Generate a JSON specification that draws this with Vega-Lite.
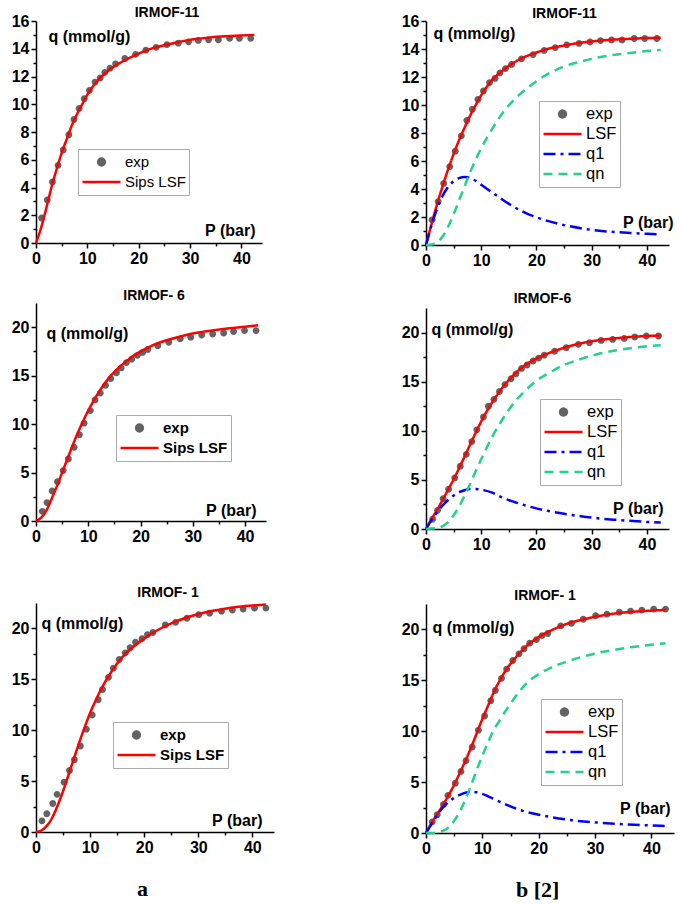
{
  "$schema": "https://vega.github.io/schema/vega-lite/v6.json",
  "background": "white",
  "padding": {"left": 11, "top": 6, "right": 4, "bottom": 5},
  "spacing": 127,
  "resolve": {"scale": {"color": "independent", "strokeDash": "independent", "shape": "independent"}, "legend": {"color": "independent", "shape": "independent", "strokeDash": "independent"}},
  "config": {
    "view": {"stroke": null},
    "font": "Liberation Sans",
    "axis": {"grid": false, "domainColor": "black", "domainWidth": 1.5, "tickColor": "black", "tickWidth": 1.5, "tickSize": 5, "labelFont": "Liberation Sans", "labelFontWeight": "bold", "labelFontSize": 16, "labelColor": "black", "labelPadding": 2, "labelFlush": false, "labelOverlap": false, "titleFont": "Liberation Sans", "titleFontWeight": "bold", "titleColor": "black", "titleFontSize": 16},
    "title": {"font": "Liberation Sans", "fontWeight": "bold", "fontSize": 14, "color": "black", "baseline": "bottom"},
    "legend": {"labelFont": "Liberation Sans", "labelColor": "black", "strokeColor": "#aaaaaa", "fillColor": "white", "padding": 3, "rowPadding": 0, "labelOffset": 3, "symbolStrokeWidth": 2.5, "symbolSize": 1444, "clipHeight": 20, "symbolOpacity": 1}
  },
  "datasets": {
    "m11_exp": [
      {"s":"exp","P":1.1,"q":1.8},{"s":"exp","P":2.2,"q":3.1},{"s":"exp","P":3.2,"q":4.4},{"s":"exp","P":4.3,"q":5.6},{"s":"exp","P":5.3,"q":6.7},{"s":"exp","P":6.4,"q":7.8},{"s":"exp","P":7.4,"q":8.9},{"s":"exp","P":8.4,"q":9.7},{"s":"exp","P":9.4,"q":10.4},{"s":"exp","P":10.4,"q":11.0},{"s":"exp","P":11.5,"q":11.6},{"s":"exp","P":12.5,"q":11.9},{"s":"exp","P":13.4,"q":12.3},{"s":"exp","P":14.4,"q":12.6},{"s":"exp","P":15.5,"q":12.9},{"s":"exp","P":17.3,"q":13.3},{"s":"exp","P":19.4,"q":13.6},{"s":"exp","P":21.4,"q":13.9},{"s":"exp","P":23.4,"q":14.1},{"s":"exp","P":25.5,"q":14.3},{"s":"exp","P":27.7,"q":14.4},{"s":"exp","P":29.7,"q":14.5},{"s":"exp","P":31.6,"q":14.6},{"s":"exp","P":33.6,"q":14.65},{"s":"exp","P":35.5,"q":14.65},{"s":"exp","P":37.7,"q":14.75},{"s":"exp","P":39.6,"q":14.75},{"s":"exp","P":41.8,"q":14.75}
    ],
    "m11_sips": [
      {"s":"Sips LSF","P":0,"q":0},{"s":"Sips LSF","P":1,"q":1.1},{"s":"Sips LSF","P":2,"q":2.5},{"s":"Sips LSF","P":3,"q":4.0},{"s":"Sips LSF","P":4,"q":5.3},{"s":"Sips LSF","P":5,"q":6.5},{"s":"Sips LSF","P":6,"q":7.5},{"s":"Sips LSF","P":7,"q":8.5},{"s":"Sips LSF","P":8,"q":9.3},{"s":"Sips LSF","P":9,"q":10.0},{"s":"Sips LSF","P":10,"q":10.7},{"s":"Sips LSF","P":11,"q":11.25},{"s":"Sips LSF","P":12,"q":11.7},{"s":"Sips LSF","P":14,"q":12.4},{"s":"Sips LSF","P":16,"q":12.9},{"s":"Sips LSF","P":18,"q":13.3},{"s":"Sips LSF","P":20,"q":13.65},{"s":"Sips LSF","P":22,"q":13.95},{"s":"Sips LSF","P":25,"q":14.25},{"s":"Sips LSF","P":28,"q":14.5},{"s":"Sips LSF","P":31,"q":14.7},{"s":"Sips LSF","P":34,"q":14.82},{"s":"Sips LSF","P":37,"q":14.9},{"s":"Sips LSF","P":40,"q":14.96},{"s":"Sips LSF","P":42.5,"q":15.0}
    ],
    "m11_fit": [
      {"s":"LSF","P":0,"q":0},{"s":"LSF","P":1,"q":1.5},{"s":"LSF","P":2,"q":2.9},{"s":"LSF","P":3,"q":4.2},{"s":"LSF","P":4,"q":5.4},{"s":"LSF","P":5,"q":6.5},{"s":"LSF","P":6,"q":7.5},{"s":"LSF","P":7,"q":8.4},{"s":"LSF","P":8,"q":9.25},{"s":"LSF","P":9,"q":10.0},{"s":"LSF","P":10,"q":10.7},{"s":"LSF","P":11,"q":11.3},{"s":"LSF","P":12,"q":11.8},{"s":"LSF","P":14,"q":12.5},{"s":"LSF","P":16,"q":13.05},{"s":"LSF","P":18,"q":13.45},{"s":"LSF","P":20,"q":13.75},{"s":"LSF","P":22,"q":14.0},{"s":"LSF","P":25,"q":14.25},{"s":"LSF","P":28,"q":14.45},{"s":"LSF","P":31,"q":14.58},{"s":"LSF","P":34,"q":14.67},{"s":"LSF","P":37,"q":14.73},{"s":"LSF","P":40,"q":14.78},{"s":"LSF","P":42.5,"q":14.8},
      {"s":"q1","P":0,"q":0},{"s":"q1","P":1,"q":1.4},{"s":"q1","P":2,"q":2.6},{"s":"q1","P":3,"q":3.5},{"s":"q1","P":4,"q":4.15},{"s":"q1","P":5,"q":4.55},{"s":"q1","P":6,"q":4.78},{"s":"q1","P":7,"q":4.85},{"s":"q1","P":8,"q":4.78},{"s":"q1","P":9,"q":4.58},{"s":"q1","P":10,"q":4.3},{"s":"q1","P":12,"q":3.75},{"s":"q1","P":14,"q":3.2},{"s":"q1","P":16,"q":2.7},{"s":"q1","P":18,"q":2.3},{"s":"q1","P":20,"q":1.98},{"s":"q1","P":22,"q":1.72},{"s":"q1","P":25,"q":1.42},{"s":"q1","P":28,"q":1.2},{"s":"q1","P":31,"q":1.03},{"s":"q1","P":34,"q":0.93},{"s":"q1","P":37,"q":0.86},{"s":"q1","P":40,"q":0.8},{"s":"q1","P":42,"q":0.76},
      {"s":"qn","P":0,"q":0},{"s":"qn","P":1,"q":0.03},{"s":"qn","P":2,"q":0.2},{"s":"qn","P":3,"q":0.6},{"s":"qn","P":4,"q":1.3},{"s":"qn","P":5,"q":2.2},{"s":"qn","P":6,"q":3.2},{"s":"qn","P":7,"q":4.2},{"s":"qn","P":8,"q":5.2},{"s":"qn","P":9,"q":6.1},{"s":"qn","P":10,"q":6.9},{"s":"qn","P":12,"q":8.3},{"s":"qn","P":14,"q":9.5},{"s":"qn","P":16,"q":10.4},{"s":"qn","P":18,"q":11.1},{"s":"qn","P":20,"q":11.7},{"s":"qn","P":22,"q":12.2},{"s":"qn","P":25,"q":12.75},{"s":"qn","P":28,"q":13.1},{"s":"qn","P":31,"q":13.38},{"s":"qn","P":34,"q":13.58},{"s":"qn","P":37,"q":13.72},{"s":"qn","P":40,"q":13.85},{"s":"qn","P":42.5,"q":13.92}
    ],
    "m6_exp": [
      {"s":"exp","P":1.2,"q":1.0},{"s":"exp","P":2.1,"q":1.9},{"s":"exp","P":3.1,"q":3.1},{"s":"exp","P":4.1,"q":4.05},{"s":"exp","P":5.2,"q":5.2},{"s":"exp","P":6.2,"q":6.4},{"s":"exp","P":7.3,"q":7.6},{"s":"exp","P":8.3,"q":8.9},{"s":"exp","P":9.2,"q":10.1},{"s":"exp","P":10.4,"q":11.4},{"s":"exp","P":11.3,"q":12.5},{"s":"exp","P":12.3,"q":13.2},{"s":"exp","P":13.3,"q":14.0},{"s":"exp","P":14.3,"q":14.7},{"s":"exp","P":15.4,"q":15.3},{"s":"exp","P":16.3,"q":15.8},{"s":"exp","P":17.3,"q":16.35},{"s":"exp","P":18.3,"q":16.7},{"s":"exp","P":19.4,"q":17.1},{"s":"exp","P":20.4,"q":17.4},{"s":"exp","P":21.4,"q":17.7},{"s":"exp","P":23.3,"q":18.1},{"s":"exp","P":25.4,"q":18.45},{"s":"exp","P":27.6,"q":18.8},{"s":"exp","P":29.6,"q":18.97},{"s":"exp","P":31.7,"q":19.2},{"s":"exp","P":33.8,"q":19.3},{"s":"exp","P":35.9,"q":19.4},{"s":"exp","P":37.8,"q":19.55},{"s":"exp","P":39.9,"q":19.65},{"s":"exp","P":42.1,"q":19.65}
    ],
    "m6_sips": [
      {"s":"Sips LSF","P":0,"q":0},{"s":"Sips LSF","P":1,"q":0.35},{"s":"Sips LSF","P":2,"q":1.1},{"s":"Sips LSF","P":3,"q":2.3},{"s":"Sips LSF","P":4,"q":3.6},{"s":"Sips LSF","P":5,"q":5.0},{"s":"Sips LSF","P":6,"q":6.4},{"s":"Sips LSF","P":7,"q":7.8},{"s":"Sips LSF","P":8,"q":9.1},{"s":"Sips LSF","P":9,"q":10.3},{"s":"Sips LSF","P":10,"q":11.4},{"s":"Sips LSF","P":12,"q":13.3},{"s":"Sips LSF","P":14,"q":14.8},{"s":"Sips LSF","P":16,"q":15.9},{"s":"Sips LSF","P":18,"q":16.8},{"s":"Sips LSF","P":20,"q":17.5},{"s":"Sips LSF","P":22,"q":18.05},{"s":"Sips LSF","P":25,"q":18.65},{"s":"Sips LSF","P":28,"q":19.1},{"s":"Sips LSF","P":31,"q":19.45},{"s":"Sips LSF","P":34,"q":19.7},{"s":"Sips LSF","P":37,"q":19.9},{"s":"Sips LSF","P":40,"q":20.05},{"s":"Sips LSF","P":42.5,"q":20.2}
    ],
    "m6_fit": [
      {"s":"LSF","P":0,"q":0},{"s":"LSF","P":1,"q":1.0},{"s":"LSF","P":2,"q":1.95},{"s":"LSF","P":3,"q":2.95},{"s":"LSF","P":4,"q":4.0},{"s":"LSF","P":5,"q":5.05},{"s":"LSF","P":6,"q":6.2},{"s":"LSF","P":7,"q":7.4},{"s":"LSF","P":8,"q":8.6},{"s":"LSF","P":9,"q":9.8},{"s":"LSF","P":10,"q":10.95},{"s":"LSF","P":12,"q":12.9},{"s":"LSF","P":14,"q":14.5},{"s":"LSF","P":16,"q":15.75},{"s":"LSF","P":18,"q":16.7},{"s":"LSF","P":20,"q":17.35},{"s":"LSF","P":22,"q":17.85},{"s":"LSF","P":25,"q":18.45},{"s":"LSF","P":28,"q":18.9},{"s":"LSF","P":31,"q":19.2},{"s":"LSF","P":34,"q":19.4},{"s":"LSF","P":37,"q":19.55},{"s":"LSF","P":40,"q":19.65},{"s":"LSF","P":42.5,"q":19.7},
      {"s":"q1","P":0,"q":0},{"s":"q1","P":1,"q":0.9},{"s":"q1","P":2,"q":1.7},{"s":"q1","P":3,"q":2.4},{"s":"q1","P":4,"q":2.95},{"s":"q1","P":5,"q":3.4},{"s":"q1","P":6,"q":3.75},{"s":"q1","P":7,"q":3.95},{"s":"q1","P":8,"q":4.07},{"s":"q1","P":9,"q":4.08},{"s":"q1","P":10,"q":4.0},{"s":"q1","P":12,"q":3.7},{"s":"q1","P":14,"q":3.15},{"s":"q1","P":16,"q":2.75},{"s":"q1","P":18,"q":2.4},{"s":"q1","P":20,"q":2.1},{"s":"q1","P":22,"q":1.85},{"s":"q1","P":25,"q":1.55},{"s":"q1","P":28,"q":1.3},{"s":"q1","P":31,"q":1.1},{"s":"q1","P":34,"q":0.95},{"s":"q1","P":37,"q":0.83},{"s":"q1","P":40,"q":0.72},{"s":"q1","P":42.5,"q":0.66},
      {"s":"qn","P":0,"q":0},{"s":"qn","P":2,"q":0.1},{"s":"qn","P":3,"q":0.3},{"s":"qn","P":4,"q":0.7},{"s":"qn","P":5,"q":1.4},{"s":"qn","P":6,"q":2.3},{"s":"qn","P":7,"q":3.4},{"s":"qn","P":8,"q":4.6},{"s":"qn","P":9,"q":5.9},{"s":"qn","P":10,"q":7.1},{"s":"qn","P":12,"q":9.4},{"s":"qn","P":14,"q":11.3},{"s":"qn","P":16,"q":12.9},{"s":"qn","P":18,"q":14.1},{"s":"qn","P":20,"q":15.1},{"s":"qn","P":22,"q":15.8},{"s":"qn","P":25,"q":16.7},{"s":"qn","P":28,"q":17.3},{"s":"qn","P":31,"q":17.8},{"s":"qn","P":34,"q":18.15},{"s":"qn","P":37,"q":18.4},{"s":"qn","P":40,"q":18.6},{"s":"qn","P":42.5,"q":18.7}
    ],
    "m1_exp": [
      {"s":"exp","P":1.1,"q":1.1},{"s":"exp","P":2.0,"q":1.8},{"s":"exp","P":3.1,"q":2.8},{"s":"exp","P":3.9,"q":3.7},{"s":"exp","P":5.2,"q":4.9},{"s":"exp","P":6.2,"q":6.05},{"s":"exp","P":7.1,"q":7.1},{"s":"exp","P":8.2,"q":8.45},{"s":"exp","P":9.3,"q":10.1},{"s":"exp","P":10.4,"q":11.5},{"s":"exp","P":11.5,"q":13.0},{"s":"exp","P":12.3,"q":14.0},{"s":"exp","P":13.4,"q":15.2},{"s":"exp","P":14.3,"q":16.1},{"s":"exp","P":15.4,"q":16.95},{"s":"exp","P":16.5,"q":17.6},{"s":"exp","P":17.4,"q":18.1},{"s":"exp","P":18.4,"q":18.65},{"s":"exp","P":19.6,"q":19.0},{"s":"exp","P":20.6,"q":19.4},{"s":"exp","P":21.6,"q":19.6},{"s":"exp","P":23.9,"q":20.35},{"s":"exp","P":25.8,"q":20.6},{"s":"exp","P":27.9,"q":21.0},{"s":"exp","P":30.1,"q":21.35},{"s":"exp","P":32.1,"q":21.5},{"s":"exp","P":34.3,"q":21.7},{"s":"exp","P":36.3,"q":21.8},{"s":"exp","P":38.3,"q":21.9},{"s":"exp","P":40.4,"q":22.0},{"s":"exp","P":42.5,"q":22.0}
    ],
    "m1_sips": [
      {"s":"Sips LSF","P":0,"q":0},{"s":"Sips LSF","P":1,"q":0.15},{"s":"Sips LSF","P":2,"q":0.6},{"s":"Sips LSF","P":3,"q":1.4},{"s":"Sips LSF","P":4,"q":2.6},{"s":"Sips LSF","P":5,"q":4.0},{"s":"Sips LSF","P":6,"q":5.6},{"s":"Sips LSF","P":7,"q":7.2},{"s":"Sips LSF","P":8,"q":8.8},{"s":"Sips LSF","P":9,"q":10.3},{"s":"Sips LSF","P":10,"q":11.7},{"s":"Sips LSF","P":11,"q":12.9},{"s":"Sips LSF","P":12,"q":14.0},{"s":"Sips LSF","P":14,"q":15.8},{"s":"Sips LSF","P":16,"q":17.2},{"s":"Sips LSF","P":18,"q":18.2},{"s":"Sips LSF","P":20,"q":19.0},{"s":"Sips LSF","P":22,"q":19.7},{"s":"Sips LSF","P":25,"q":20.5},{"s":"Sips LSF","P":28,"q":21.1},{"s":"Sips LSF","P":31,"q":21.55},{"s":"Sips LSF","P":34,"q":21.85},{"s":"Sips LSF","P":37,"q":22.1},{"s":"Sips LSF","P":40,"q":22.25},{"s":"Sips LSF","P":42.5,"q":22.35}
    ],
    "m1_fit": [
      {"s":"LSF","P":0,"q":0},{"s":"LSF","P":1,"q":1.0},{"s":"LSF","P":2,"q":1.85},{"s":"LSF","P":3,"q":2.75},{"s":"LSF","P":4,"q":3.7},{"s":"LSF","P":5,"q":4.75},{"s":"LSF","P":6,"q":5.9},{"s":"LSF","P":7,"q":7.1},{"s":"LSF","P":8,"q":8.4},{"s":"LSF","P":9,"q":9.8},{"s":"LSF","P":10,"q":11.2},{"s":"LSF","P":11,"q":12.5},{"s":"LSF","P":12,"q":13.8},{"s":"LSF","P":13,"q":14.9},{"s":"LSF","P":14,"q":15.85},{"s":"LSF","P":16,"q":17.3},{"s":"LSF","P":18,"q":18.45},{"s":"LSF","P":20,"q":19.25},{"s":"LSF","P":22,"q":19.85},{"s":"LSF","P":25,"q":20.55},{"s":"LSF","P":28,"q":21.0},{"s":"LSF","P":31,"q":21.35},{"s":"LSF","P":34,"q":21.6},{"s":"LSF","P":37,"q":21.75},{"s":"LSF","P":40,"q":21.85},{"s":"LSF","P":42.5,"q":21.92},
      {"s":"q1","P":0,"q":0},{"s":"q1","P":1,"q":0.9},{"s":"q1","P":2,"q":1.75},{"s":"q1","P":3,"q":2.5},{"s":"q1","P":4,"q":3.05},{"s":"q1","P":5,"q":3.45},{"s":"q1","P":6,"q":3.75},{"s":"q1","P":7,"q":3.95},{"s":"q1","P":8,"q":4.05},{"s":"q1","P":9,"q":4.0},{"s":"q1","P":10,"q":3.85},{"s":"q1","P":11,"q":3.6},{"s":"q1","P":12,"q":3.35},{"s":"q1","P":14,"q":2.85},{"s":"q1","P":16,"q":2.4},{"s":"q1","P":18,"q":2.05},{"s":"q1","P":20,"q":1.8},{"s":"q1","P":22,"q":1.58},{"s":"q1","P":25,"q":1.32},{"s":"q1","P":28,"q":1.13},{"s":"q1","P":31,"q":1.0},{"s":"q1","P":34,"q":0.9},{"s":"q1","P":37,"q":0.81},{"s":"q1","P":40,"q":0.74},{"s":"q1","P":42.5,"q":0.69},
      {"s":"qn","P":0,"q":0},{"s":"qn","P":1,"q":0},{"s":"qn","P":2,"q":0.05},{"s":"qn","P":3,"q":0.2},{"s":"qn","P":4,"q":0.55},{"s":"qn","P":5,"q":1.2},{"s":"qn","P":6,"q":2.1},{"s":"qn","P":7,"q":3.3},{"s":"qn","P":8,"q":4.7},{"s":"qn","P":9,"q":6.2},{"s":"qn","P":10,"q":7.6},{"s":"qn","P":11,"q":8.9},{"s":"qn","P":12,"q":10.1},{"s":"qn","P":13,"q":11.0},{"s":"qn","P":14,"q":11.9},{"s":"qn","P":15,"q":12.7},{"s":"qn","P":16,"q":13.5},{"s":"qn","P":17,"q":14.2},{"s":"qn","P":18,"q":14.8},{"s":"qn","P":20,"q":15.6},{"s":"qn","P":22,"q":16.2},{"s":"qn","P":25,"q":16.85},{"s":"qn","P":28,"q":17.35},{"s":"qn","P":31,"q":17.75},{"s":"qn","P":34,"q":18.05},{"s":"qn","P":37,"q":18.3},{"s":"qn","P":40,"q":18.5},{"s":"qn","P":42.5,"q":18.65}
    ]
  },
  "hconcat": [
    {
      "title": {"text": "a", "orient": "bottom", "anchor": "middle", "font": "Liberation Serif", "fontSize": 22, "fontWeight": "bold", "baseline": "top", "offset": 24},
      "spacing": 41,
      "resolve": {"scale": {"color": "independent", "strokeDash": "independent", "shape": "independent"}, "legend": {"color": "independent", "shape": "independent", "strokeDash": "independent"}},
      "vconcat": [
        {
          "spacing": 23,
          "resolve": {"scale": {"color": "independent", "strokeDash": "independent", "shape": "independent"}, "legend": {"color": "independent", "shape": "independent", "strokeDash": "independent"}},
          "vconcat": [
            {
              "width": 226, "height": 222,
              "title": {"text": "IRMOF-11", "dx": 18, "offset": -7},
              "resolve": {"axis": {"x": "independent", "y": "independent"}},
              "layer": [
                {
                  "data": {"name": "m11_exp"},
                  "mark": {"type": "point", "filled": true, "size": 1444, "opacity": 1},
                  "encoding": {
                    "x": {"field": "P", "type": "quantitative", "scale": {"domain": [0, 44], "nice": false}, "axis": {"orient": "bottom", "values": [0,10,20,30,40], "title": "P (bar)", "titleX": 219, "titleY": -13, "titleAlign": "right", "titleBaseline": "middle"}},
                    "y": {"field": "q", "type": "quantitative", "scale": {"domain": [0, 16], "nice": false}, "axis": {"orient": "left", "values": [0,2,4,6,8,10,12,14,16], "title": "q (mmol/g)", "titleAngle": 0, "titleX": 12, "titleY": 15, "titleAlign": "left", "titleBaseline": "middle"}},
                    "color": {"field": "s", "type": "nominal", "scale": {"domain": ["exp", "Sips LSF"], "range": ["#636363", "#ff0000"]},
                      "legend": {"title": null, "orient": "none", "legendX": 42, "legendY": 128, "labelFontSize": 15, "labelFontWeight": "normal"}},
                    "shape": {"field": "s", "type": "nominal", "scale": {"domain": ["exp", "Sips LSF"], "range": ["M-0.18,0A0.18,0.18,0,1,0,0.18,0A0.18,0.18,0,1,0,-0.18,0Z", "stroke"]}, "legend": {"title": null}}
                  }
                },
                {
                  "data": {"name": "m11_sips"},
                  "mark": {"type": "line", "strokeWidth": 2.5, "interpolate": "monotone"},
                  "encoding": {
                    "x": {"field": "P", "type": "quantitative", "axis": {"orient": "bottom", "values": [5,15,25,35], "labels": false, "domain": false, "title": null, "tickSize": 3}},
                    "y": {"field": "q", "type": "quantitative", "axis": {"orient": "left", "values": [1,3,5,7,9,11,13,15], "labels": false, "domain": false, "title": null, "tickSize": 3}},
                    "color": {"field": "s", "type": "nominal"}
                  }
                }
              ]
            },
            {
              "width": 230, "height": 218,
              "title": {"text": "IRMOF- 6", "dx": 3, "offset": 0},
              "resolve": {"axis": {"x": "independent", "y": "independent"}},
              "layer": [
                {
                  "data": {"name": "m6_exp"},
                  "mark": {"type": "point", "filled": true, "size": 1444, "opacity": 1},
                  "encoding": {
                    "x": {"field": "P", "type": "quantitative", "scale": {"domain": [0, 44], "nice": false}, "axis": {"orient": "bottom", "values": [0,10,20,30,40], "title": "P (bar)", "titleX": 220, "titleY": -11, "titleAlign": "right", "titleBaseline": "middle"}},
                    "y": {"field": "q", "type": "quantitative", "scale": {"domain": [0, 22.5], "nice": false}, "axis": {"orient": "left", "values": [0,5,10,15,20], "title": "q (mmol/g)", "titleAngle": 0, "titleX": 10, "titleY": 30, "titleAlign": "left", "titleBaseline": "middle"}},
                    "color": {"field": "s", "type": "nominal", "scale": {"domain": ["exp", "Sips LSF"], "range": ["#636363", "#ff0000"]},
                      "legend": {"title": null, "orient": "none", "legendX": 80, "legendY": 112, "labelFontSize": 15, "labelFontWeight": "bold"}},
                    "shape": {"field": "s", "type": "nominal", "scale": {"domain": ["exp", "Sips LSF"], "range": ["M-0.18,0A0.18,0.18,0,1,0,0.18,0A0.18,0.18,0,1,0,-0.18,0Z", "stroke"]}, "legend": {"title": null}}
                  }
                },
                {
                  "data": {"name": "m6_sips"},
                  "mark": {"type": "line", "strokeWidth": 2.5, "interpolate": "monotone"},
                  "encoding": {
                    "x": {"field": "P", "type": "quantitative", "axis": {"orient": "bottom", "values": [5,15,25,35], "labels": false, "domain": false, "title": null, "tickSize": 3}},
                    "y": {"field": "q", "type": "quantitative", "axis": {"orient": "left", "values": [2.5,7.5,12.5,17.5], "labels": false, "domain": false, "title": null, "tickSize": 3}},
                    "color": {"field": "s", "type": "nominal"}
                  }
                }
              ]
            }
          ]
        },
        {
          "width": 238, "height": 229,
          "title": {"text": "IRMOF- 1", "dx": 13, "offset": 0},
          "resolve": {"axis": {"x": "independent", "y": "independent"}},
          "layer": [
            {
              "data": {"name": "m1_exp"},
              "mark": {"type": "point", "filled": true, "size": 1444, "opacity": 1},
              "encoding": {
                "x": {"field": "P", "type": "quantitative", "scale": {"domain": [0, 44], "nice": false}, "axis": {"orient": "bottom", "values": [0,10,20,30,40], "title": "P (bar)", "titleX": 226, "titleY": -12, "titleAlign": "right", "titleBaseline": "middle"}},
                "y": {"field": "q", "type": "quantitative", "scale": {"domain": [0, 22.5], "nice": false}, "axis": {"orient": "left", "values": [0,5,10,15,20], "title": "q (mmol/g)", "titleAngle": 0, "titleX": 5, "titleY": 20, "titleAlign": "left", "titleBaseline": "middle"}},
                "color": {"field": "s", "type": "nominal", "scale": {"domain": ["exp", "Sips LSF"], "range": ["#636363", "#ff0000"]},
                  "legend": {"title": null, "orient": "none", "legendX": 77, "legendY": 119, "labelFontSize": 15, "labelFontWeight": "bold"}},
                "shape": {"field": "s", "type": "nominal", "scale": {"domain": ["exp", "Sips LSF"], "range": ["M-0.18,0A0.18,0.18,0,1,0,0.18,0A0.18,0.18,0,1,0,-0.18,0Z", "stroke"]}, "legend": {"title": null}}
              }
            },
            {
              "data": {"name": "m1_sips"},
              "mark": {"type": "line", "strokeWidth": 2.5, "interpolate": "monotone"},
              "encoding": {
                "x": {"field": "P", "type": "quantitative", "axis": {"orient": "bottom", "values": [5,15,25,35], "labels": false, "domain": false, "title": null, "tickSize": 3}},
                "y": {"field": "q", "type": "quantitative", "axis": {"orient": "left", "values": [2.5,7.5,12.5,17.5], "labels": false, "domain": false, "title": null, "tickSize": 3}},
                "color": {"field": "s", "type": "nominal"}
              }
            }
          ]
        }
      ]
    },
    {
      "title": {"text": "b [2]", "orient": "bottom", "anchor": "middle", "font": "Liberation Serif", "fontSize": 22, "fontWeight": "bold", "baseline": "top", "offset": 24},
      "spacing": 37,
      "resolve": {"scale": {"color": "independent", "strokeDash": "independent", "shape": "independent"}, "legend": {"color": "independent", "shape": "independent", "strokeDash": "independent"}},
      "vconcat": [
        {
          "spacing": 24,
          "resolve": {"scale": {"color": "independent", "strokeDash": "independent", "shape": "independent"}, "legend": {"color": "independent", "shape": "independent", "strokeDash": "independent"}},
          "vconcat": [
            {
              "width": 243, "height": 224,
              "title": {"text": "IRMOF-11", "dx": 17, "offset": -8},
              "resolve": {"axis": {"x": "independent", "y": "independent"}},
              "layer": [
                {
                  "data": {"name": "m11_exp"},
                  "mark": {"type": "point", "filled": true, "size": 1444, "opacity": 1},
                  "encoding": {
                    "x": {"field": "P", "type": "quantitative", "scale": {"domain": [0, 44], "nice": false}, "axis": {"orient": "bottom", "values": [0,10,20,30,40], "title": "P (bar)", "titleX": 247, "titleY": -23, "titleAlign": "right", "titleBaseline": "middle"}},
                    "y": {"field": "q", "type": "quantitative", "scale": {"domain": [0, 16], "nice": false}, "axis": {"orient": "left", "values": [0,2,4,6,8,10,12,14,16], "title": "q (mmol/g)", "titleAngle": 0, "titleX": 7, "titleY": 12, "titleAlign": "left", "titleBaseline": "middle"}},
                    "color": {"field": "s", "type": "nominal", "scale": {"domain": ["exp", "LSF", "q1", "qn"], "range": ["#636363", "#ff0000", "#0000ff", "#22d18b"]},
                      "legend": {"title": null, "orient": "none", "legendX": 113, "legendY": 80, "labelFontSize": 16.5, "labelFontWeight": "normal"}},
                    "shape": {"field": "s", "type": "nominal", "scale": {"domain": ["exp", "LSF", "q1", "qn"], "range": ["M-0.18,0A0.18,0.18,0,1,0,0.18,0A0.18,0.18,0,1,0,-0.18,0Z", "stroke", "stroke", "stroke"]}, "legend": {"title": null}}
                  }
                },
                {
                  "data": {"name": "m11_fit"},
                  "mark": {"type": "line", "strokeWidth": 2.5, "interpolate": "monotone"},
                  "encoding": {
                    "x": {"field": "P", "type": "quantitative", "axis": {"orient": "bottom", "values": [5,15,25,35], "labels": false, "domain": false, "title": null, "tickSize": 3}},
                    "y": {"field": "q", "type": "quantitative", "axis": {"orient": "left", "values": [1,3,5,7,9,11,13,15], "labels": false, "domain": false, "title": null, "tickSize": 3}},
                    "color": {"field": "s", "type": "nominal"},
                    "strokeDash": {"field": "s", "type": "nominal", "scale": {"domain": ["exp", "LSF", "q1", "qn"], "range": [[1,0],[1,0],[12,5,3,5],[9,6]]}, "legend": {"title": null}}
                  }
                }
              ]
            },
            {
              "width": 243, "height": 221,
              "title": {"text": "IRMOF-6", "dx": -5, "offset": 2},
              "resolve": {"axis": {"x": "independent", "y": "independent"}},
              "layer": [
                {
                  "data": {"name": "m6_exp"},
                  "mark": {"type": "point", "filled": true, "size": 1444, "opacity": 1},
                  "encoding": {
                    "x": {"field": "P", "type": "quantitative", "scale": {"domain": [0, 44], "nice": false}, "axis": {"orient": "bottom", "values": [0,10,20,30,40], "title": "P (bar)", "titleX": 237, "titleY": -21, "titleAlign": "right", "titleBaseline": "middle"}},
                    "y": {"field": "q", "type": "quantitative", "scale": {"domain": [0, 22.5], "nice": false}, "axis": {"orient": "left", "values": [0,5,10,15,20], "title": "q (mmol/g)", "titleAngle": 0, "titleX": 5, "titleY": 21, "titleAlign": "left", "titleBaseline": "middle"}},
                    "color": {"field": "s", "type": "nominal", "scale": {"domain": ["exp", "LSF", "q1", "qn"], "range": ["#636363", "#ff0000", "#0000ff", "#22d18b"]},
                      "legend": {"title": null, "orient": "none", "legendX": 114, "legendY": 91, "labelFontSize": 16.5, "labelFontWeight": "normal"}},
                    "shape": {"field": "s", "type": "nominal", "scale": {"domain": ["exp", "LSF", "q1", "qn"], "range": ["M-0.18,0A0.18,0.18,0,1,0,0.18,0A0.18,0.18,0,1,0,-0.18,0Z", "stroke", "stroke", "stroke"]}, "legend": {"title": null}}
                  }
                },
                {
                  "data": {"name": "m6_fit"},
                  "mark": {"type": "line", "strokeWidth": 2.5, "interpolate": "monotone"},
                  "encoding": {
                    "x": {"field": "P", "type": "quantitative", "axis": {"orient": "bottom", "values": [5,15,25,35], "labels": false, "domain": false, "title": null, "tickSize": 3}},
                    "y": {"field": "q", "type": "quantitative", "axis": {"orient": "left", "values": [2.5,7.5,12.5,17.5], "labels": false, "domain": false, "title": null, "tickSize": 3}},
                    "color": {"field": "s", "type": "nominal"},
                    "strokeDash": {"field": "s", "type": "nominal", "scale": {"domain": ["exp", "LSF", "q1", "qn"], "range": [[1,0],[1,0],[12,5,3,5],[9,6]]}, "legend": {"title": null}}
                  }
                }
              ]
            }
          ]
        },
        {
          "width": 248, "height": 229,
          "title": {"text": "IRMOF- 1", "dx": -5, "offset": 1},
          "resolve": {"axis": {"x": "independent", "y": "independent"}},
          "layer": [
            {
              "data": {"name": "m1_exp"},
              "mark": {"type": "point", "filled": true, "size": 1444, "opacity": 1},
              "encoding": {
                "x": {"field": "P", "type": "quantitative", "scale": {"domain": [0, 44], "nice": false}, "axis": {"orient": "bottom", "values": [0,10,20,30,40], "title": "P (bar)", "titleX": 244, "titleY": -25, "titleAlign": "right", "titleBaseline": "middle"}},
                "y": {"field": "q", "type": "quantitative", "scale": {"domain": [0, 22.5], "nice": false}, "axis": {"orient": "left", "values": [0,5,10,15,20], "title": "q (mmol/g)", "titleAngle": 0, "titleX": 6, "titleY": 23, "titleAlign": "left", "titleBaseline": "middle"}},
                "color": {"field": "s", "type": "nominal", "scale": {"domain": ["exp", "LSF", "q1", "qn"], "range": ["#636363", "#ff0000", "#0000ff", "#22d18b"]},
                  "legend": {"title": null, "orient": "none", "legendX": 115, "legendY": 95, "labelFontSize": 16.5, "labelFontWeight": "normal"}},
                "shape": {"field": "s", "type": "nominal", "scale": {"domain": ["exp", "LSF", "q1", "qn"], "range": ["M-0.18,0A0.18,0.18,0,1,0,0.18,0A0.18,0.18,0,1,0,-0.18,0Z", "stroke", "stroke", "stroke"]}, "legend": {"title": null}}
              }
            },
            {
              "data": {"name": "m1_fit"},
              "mark": {"type": "line", "strokeWidth": 2.5, "interpolate": "monotone"},
              "encoding": {
                "x": {"field": "P", "type": "quantitative", "axis": {"orient": "bottom", "values": [5,15,25,35], "labels": false, "domain": false, "title": null, "tickSize": 3}},
                "y": {"field": "q", "type": "quantitative", "axis": {"orient": "left", "values": [2.5,7.5,12.5,17.5], "labels": false, "domain": false, "title": null, "tickSize": 3}},
                "color": {"field": "s", "type": "nominal"},
                "strokeDash": {"field": "s", "type": "nominal", "scale": {"domain": ["exp", "LSF", "q1", "qn"], "range": [[1,0],[1,0],[12,5,3,5],[9,6]]}, "legend": {"title": null}}
              }
            }
          ]
        }
      ]
    }
  ]
}
